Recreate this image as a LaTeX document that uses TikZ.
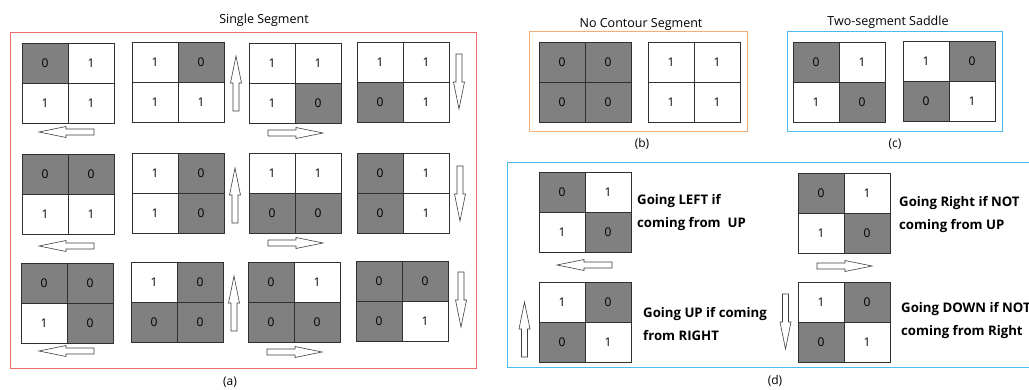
\documentclass[tikz,border=0pt]{standalone}
\usepackage{fontspec}
\setmainfont{Open Sans}
\definecolor{cellgray}{HTML}{808080}
\definecolor{gridline}{HTML}{303030}
\definecolor{boxred}{HTML}{F06A6A}
\definecolor{boxorange}{HTML}{F5AD78}
\definecolor{boxblue}{HTML}{4FB9EE}
\tikzset{
  cellbox/.style={draw=gridline, line width=0.8pt, minimum width=46pt, minimum height=40pt, inner sep=0pt, font=\fontsize{12}{13}\selectfont},
  v0/.style={fill=cellgray},
  v1/.style={fill=white},
  arrowline/.style={draw=black!75, line width=0.6pt, fill=white},
  paneltitle/.style={font=\fontsize{12.5}{14}\selectfont},
  caption/.style={font=\fontsize{12}{13}\selectfont},
  rule/.style={font=\bfseries\fontsize{13.2}{23}\selectfont, align=left, anchor=west, inner sep=0pt},
  panelbox/.style={line width=1pt},
}
% name, x, y (top-left), tl, tr, bl, br
\newcommand\mygrid[7]{%
  \node[cellbox, v#4] (#1-tl) at ({#2+23},{#3+20}) {#4};
  \node[cellbox, v#5] (#1-tr) at ({#2+69},{#3+20}) {#5};
  \node[cellbox, v#6] (#1-bl) at ({#2+23},{#3+60}) {#6};
  \node[cellbox, v#7] (#1-br) at ({#2+69},{#3+60}) {#7};
}
% head base (x,y), direction (dx,dy) toward tip
\newcommand\blkarrow[4]{%
  \draw[arrowline] ({#1+27*#3},{#2+27*#4})
    -- ({#1-5.5*#4},{#2+5.5*#3}) -- ({#1-3*#4},{#2+3*#3})
    -- ({#1-28*#3-3*#4},{#2-28*#4+3*#3}) -- ({#1-28*#3+3*#4},{#2-28*#4-3*#3})
    -- ({#1+3*#4},{#2-3*#3}) -- ({#1+5.5*#4},{#2-5.5*#3}) -- cycle;
}
\begin{document}
\begin{tikzpicture}[x=1pt,y=-1pt]
\useasboundingbox[fill=white] (0,0) rectangle (1029,390);
% panel boxes
\draw[boxred, panelbox] (10,33) rectangle (476,368);
\draw[boxorange, panelbox] (529,32) rectangle (747,132);
\draw[boxblue, panelbox] (787,32) rectangle (1002,132);
\draw[boxblue, panelbox] (1029,163) -- (507,163) -- (507,367) -- (1029,367);
% titles and captions
\node[paneltitle] (ta) at (264,20) {Single Segment};
\node[paneltitle] (tb) at (641,24) {No Contour Segment};
\node[paneltitle] (tc) at (888,22) {Two-segment Saddle};
\node[caption] (ca) at (230,382) {(a)};
\node[caption] (cb) at (642,144) {(b)};
\node[caption] (cc) at (895,144) {(c)};
\node[caption] (cd) at (775,381) {(d)};
% panel (a)
\mygrid{a11}{22}{43}{0}{1}{1}{1}
\mygrid{a12}{132}{42}{1}{0}{1}{1}
\mygrid{a13}{249}{43}{1}{1}{1}{0}
\mygrid{a14}{357}{42}{1}{1}{0}{1}
\mygrid{a21}{22}{154}{0}{0}{1}{1}
\mygrid{a22}{132}{153}{1}{0}{1}{0}
\mygrid{a23}{249}{153}{1}{1}{0}{0}
\mygrid{a24}{357}{153}{0}{1}{0}{1}
\mygrid{a31}{21}{263}{0}{0}{1}{0}
\mygrid{a32}{131}{262}{1}{0}{0}{0}
\mygrid{a33}{248}{262}{0}{1}{0}{0}
\mygrid{a34}{356}{261}{0}{0}{0}{1}
\blkarrow{66}{132}{-1}{0}
\blkarrow{236}{83}{0}{-1}
\blkarrow{296}{133}{1}{0}
\blkarrow{459}{82}{0}{1}
\blkarrow{66}{246}{-1}{0}
\blkarrow{235}{195}{0}{-1}
\blkarrow{296}{243}{1}{0}
\blkarrow{460}{194}{0}{1}
\blkarrow{66}{351}{-1}{0}
\blkarrow{234}{303}{0}{-1}
\blkarrow{295}{352}{1}{0}
\blkarrow{461}{300}{0}{1}
% panel (b)
\mygrid{b1}{539}{42}{0}{0}{0}{0}
\mygrid{b2}{648}{42}{1}{1}{1}{1}
% panel (c)
\mygrid{c1}{793}{42}{0}{1}{1}{0}
\mygrid{c2}{903}{41}{1}{0}{0}{1}
% panel (d)
\mygrid{d1}{539}{172}{0}{1}{1}{0}
\mygrid{d2}{539}{282}{1}{0}{0}{1}
\mygrid{d3}{798}{173}{0}{1}{1}{0}
\mygrid{d4}{798}{282}{1}{0}{0}{1}
\blkarrow{584}{265}{-1}{0}
\blkarrow{524.5}{329}{0}{-1}
\blkarrow{845}{266}{1}{0}
\blkarrow{785.5}{322}{0}{1}
\node[rule] (r1) at (637,212.5) {Going LEFT if\\coming from\ \ UP};
\node[rule] (r2) at (643,324) {Going UP if coming\\from RIGHT};
\node[rule] (r3) at (899,214.5) {Going Right if NOT\\coming from UP};
\node[rule] (r4) at (901,321) {Going DOWN if NOT\\coming from Right};
\end{tikzpicture}
\end{document}
